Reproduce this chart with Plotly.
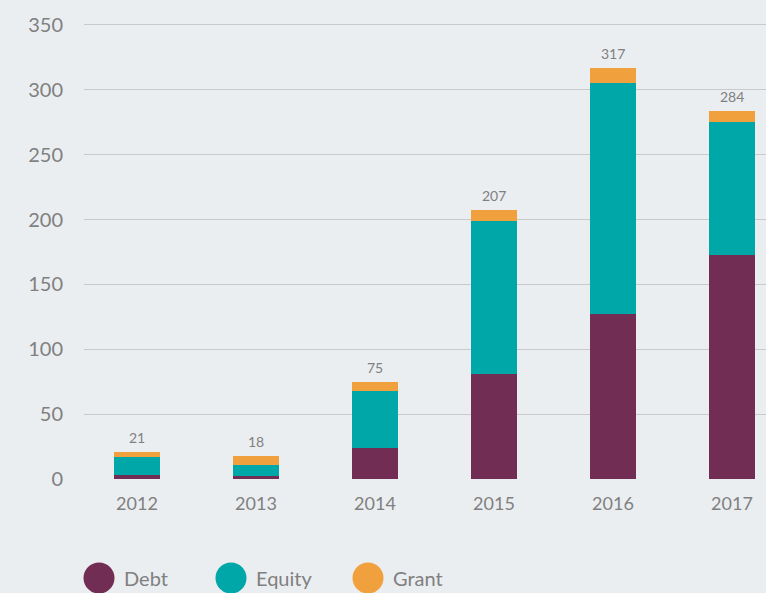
import plotly.graph_objects as go

years = ["2012", "2013", "2014", "2015", "2016", "2017"]
debt = [3, 2, 24, 81, 127, 173]
equity = [14, 9, 44, 118, 178, 102]
grant = [4, 7, 7, 8, 12, 9]
totals = [21, 18, 75, 207, 317, 284]

series_names = ["Debt", "Equity", "Grant"]
series_colors = ["#722D55", "#00A7A8", "#F0A03C"]
y_ticks = [0, 50, 100, 150, 200, 250, 300, 350]

BG = "#EBEEF1"
GRAY = "#808080"
FONT = "Lato, 'Open Sans', sans-serif"

fig = go.Figure()
for name, vals, col in zip(series_names, [debt, equity, grant], series_colors):
    fig.add_trace(go.Bar(
        x=years, y=vals, name=name, marker=dict(color=col, line=dict(width=0)),
        width=0.387, showlegend=False, hoverinfo="y+name",
    ))

annotations = []
for i, t in enumerate(totals):
    annotations.append(dict(x=i, y=t, xref="x", yref="y", text=str(t), showarrow=False,
                            xanchor="center", yanchor="bottom", yshift=4,
                            font=dict(size=14, color=GRAY, family=FONT)))

# custom legend (large circles) in paper coordinates
legend_cx = [99, 231, 368]  # pixel centres of legend circles
shapes = []
R = 15.5
PL, PW, PB, PH = 84, 682, 479, 467
for name, col, cx in zip(series_names, series_colors, legend_cx):
    shapes.append(dict(type="circle", xref="paper", yref="paper",
                       x0=(cx - PL - R) / PW, x1=(cx - PL + R) / PW,
                       y0=(PB - 578 - R) / PH, y1=(PB - 578 + R) / PH,
                       fillcolor=col, line=dict(width=0)))
    annotations.append(dict(xref="paper", yref="paper",
                            x=(cx - PL + 23) / PW, y=(PB - 578) / PH,
                            text=name, showarrow=False, xanchor="left", yanchor="middle",
                            font=dict(size=20, color=GRAY, family=FONT)))

fig.update_layout(
    barmode="stack",
    width=766, height=593,
    margin=dict(l=84, r=0, t=12, b=114),
    paper_bgcolor=BG, plot_bgcolor=BG,
    font=dict(family=FONT, color=GRAY),
    shapes=shapes, annotations=annotations,
    xaxis=dict(
        type="category", range=[-0.445, 5.286], showgrid=False, zeroline=False,
        showline=False, ticks="", tickfont=dict(size=18, color=GRAY, family=FONT),
        ticklabelstandoff=12,
    ),
    yaxis=dict(
        range=[0, 360], tickvals=y_ticks, showgrid=True, gridcolor="#C9CACB",
        gridwidth=1, zeroline=False, showline=False, ticks="",
        tickfont=dict(size=20, color=GRAY, family=FONT), ticklabelstandoff=20,
    ),
)

fig.write_html("out.html", config={"displayModeBar": False},
               post_script="document.body.style.margin='0';document.body.style.overflow='hidden';")
